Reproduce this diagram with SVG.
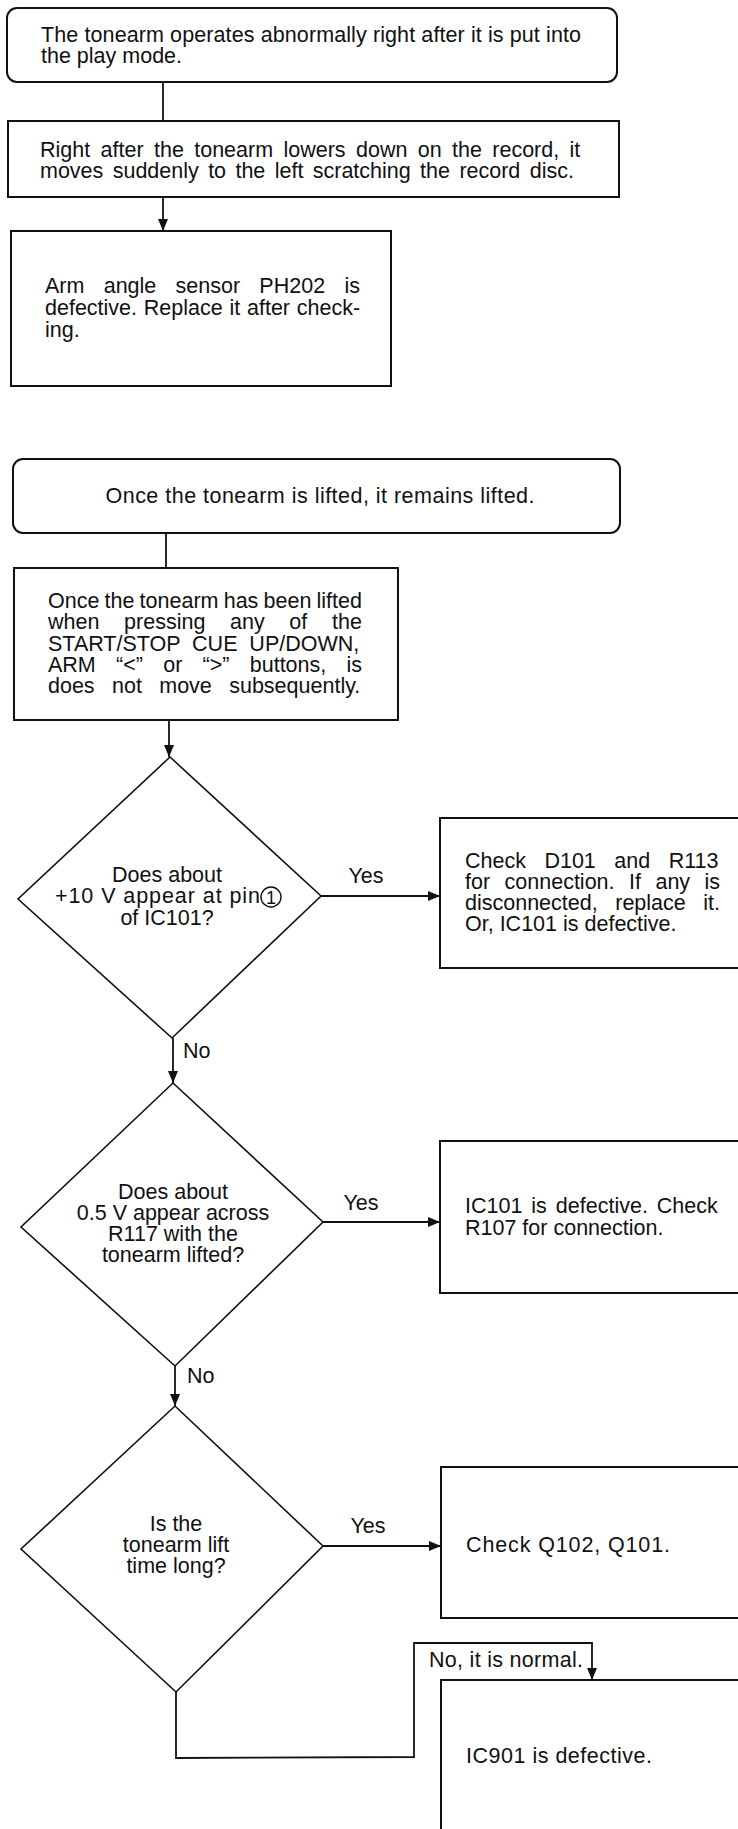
<svg xmlns="http://www.w3.org/2000/svg" width="738" height="1829" viewBox="0 0 738 1829">
<style>
.box{fill:none;stroke:#111;stroke-width:2}
.dia{fill:none;stroke:#111;stroke-width:1.6}
.ln{fill:none;stroke:#111;stroke-width:1.8}
text{font-family:"Liberation Sans",Arial,sans-serif;font-size:21.5px;fill:#111}
.c{text-anchor:middle}
</style>
<defs>
<marker id="ah" viewBox="0 0 12 10" refX="12" refY="5" markerWidth="12" markerHeight="10" markerUnits="userSpaceOnUse" orient="auto">
<path d="M0,0 L12,5 L0,10 Z" fill="#111"/>
</marker>
</defs>
<rect width="738" height="1829" fill="#fff"/>
<g id="connectors">
<line class="ln" x1="163" y1="82" x2="163" y2="121"/>
<line class="ln" x1="163" y1="197" x2="163" y2="231" marker-end="url(#ah)"/>
<line class="ln" x1="166" y1="533" x2="166" y2="568"/>
<line class="ln" x1="169" y1="720" x2="169" y2="757" marker-end="url(#ah)"/>
<line class="ln" x1="321" y1="896" x2="440" y2="896" marker-end="url(#ah)"/>
<text x="366" y="883" class="c">Yes</text>
<line class="ln" x1="173" y1="1038" x2="173" y2="1083" marker-end="url(#ah)"/>
<text x="183" y="1058">No</text>
<line class="ln" x1="323" y1="1222" x2="440" y2="1222" marker-end="url(#ah)"/>
<text x="361" y="1210" class="c">Yes</text>
<line class="ln" x1="175" y1="1366" x2="175" y2="1406" marker-end="url(#ah)"/>
<text x="187" y="1383">No</text>
<line class="ln" x1="323" y1="1546" x2="441" y2="1546" marker-end="url(#ah)"/>
<text x="368" y="1533" class="c">Yes</text>
<polyline class="ln" points="176,1692 176,1758 414,1757 414,1643 592,1643 592,1680" marker-end="url(#ah)"/>
<text x="429" y="1667" textLength="154" lengthAdjust="spacing">No, it is normal.</text>
</g>
<g id="n1">
<rect class="box" x="7" y="8" width="610" height="74" rx="10"/>
<text x="41" y="42" textLength="540" lengthAdjust="spacing">The tonearm operates abnormally right after it is put into</text>
<text x="41" y="63">the play mode.</text>
</g>
<g id="n2">
<rect class="box" x="8" y="121" width="611" height="76"/>
<text x="40" y="157" word-spacing="4.4">Right after the tonearm lowers down on the record, it</text>
<text x="40" y="178" word-spacing="3.4">moves suddenly to the left scratching the record disc.</text>
</g>
<g id="n3">
<rect class="box" x="11" y="231" width="380" height="155"/>
<text x="45" y="293" word-spacing="13.3">Arm angle sensor PH202 is</text>
<text x="45" y="315" word-spacing="0.8">defective. Replace it after check-</text>
<text x="45" y="337">ing.</text>
</g>
<g id="n4">
<rect class="box" x="13" y="459" width="607" height="74" rx="10"/>
<text x="320" y="503" class="c" textLength="429" lengthAdjust="spacing">Once the tonearm is lifted, it remains lifted.</text>
</g>
<g id="n5">
<rect class="box" x="14" y="568" width="384" height="152"/>
<text x="48" y="608" word-spacing="-0.8">Once the tonearm has been lifted</text>
<text x="48" y="629" word-spacing="18.7">when pressing any of the</text>
<text x="48" y="651" word-spacing="5.9">START/STOP CUE UP/DOWN,</text>
<text x="48" y="672" word-spacing="14.3">ARM “&lt;” or “&gt;” buttons, is</text>
<text x="48" y="693" word-spacing="11.4">does not move subsequently.</text>
</g>
<g id="d1">
<polygon class="dia" points="170,757 321,896 172,1038 18,899"/>
<text x="167" y="882" class="c">Does about</text>
<text x="55" y="903" textLength="205" lengthAdjust="spacing">+10 V appear at pin</text>
<circle cx="271" cy="897" r="10" fill="none" stroke="#111" stroke-width="1.4"/>
<text x="271" y="904" class="c" style="font-size:18px">1</text>
<text x="167" y="925" class="c">of IC101?</text>
</g>
<g id="n6">
<rect class="box" x="440" y="818" width="320" height="150"/>
<text x="465" y="868" word-spacing="12.5">Check D101 and R113</text>
<text x="465" y="889" word-spacing="8.5">for connection. If any is</text>
<text x="465" y="910" word-spacing="11.6">disconnected, replace it.</text>
<text x="465" y="931">Or, IC101 is defective.</text>
</g>
<g id="d2">
<polygon class="dia" points="173,1083 323,1222 175,1366 21,1227"/>
<text x="173" y="1199" class="c">Does about</text>
<text x="173" y="1220" class="c">0.5 V appear across</text>
<text x="173" y="1241" class="c">R117 with the</text>
<text x="173" y="1262" class="c">tonearm lifted?</text>
</g>
<g id="n7">
<rect class="box" x="440" y="1141" width="320" height="152"/>
<text x="465" y="1213" word-spacing="3">IC101 is defective. Check</text>
<text x="465" y="1235">R107 for connection.</text>
</g>
<g id="d3">
<polygon class="dia" points="175,1406 323,1546 176,1692 21,1549"/>
<text x="176" y="1531" class="c">Is the</text>
<text x="176" y="1552" class="c">tonearm lift</text>
<text x="176" y="1573" class="c">time long?</text>
</g>
<g id="n8">
<rect class="box" x="441" y="1467" width="320" height="151"/>
<text x="466" y="1552" textLength="204" lengthAdjust="spacing">Check Q102, Q101.</text>
</g>
<g id="n9">
<rect class="box" x="441" y="1680" width="320" height="170"/>
<text x="466" y="1763" textLength="186" lengthAdjust="spacing">IC901 is defective.</text>
</g>
</svg>
